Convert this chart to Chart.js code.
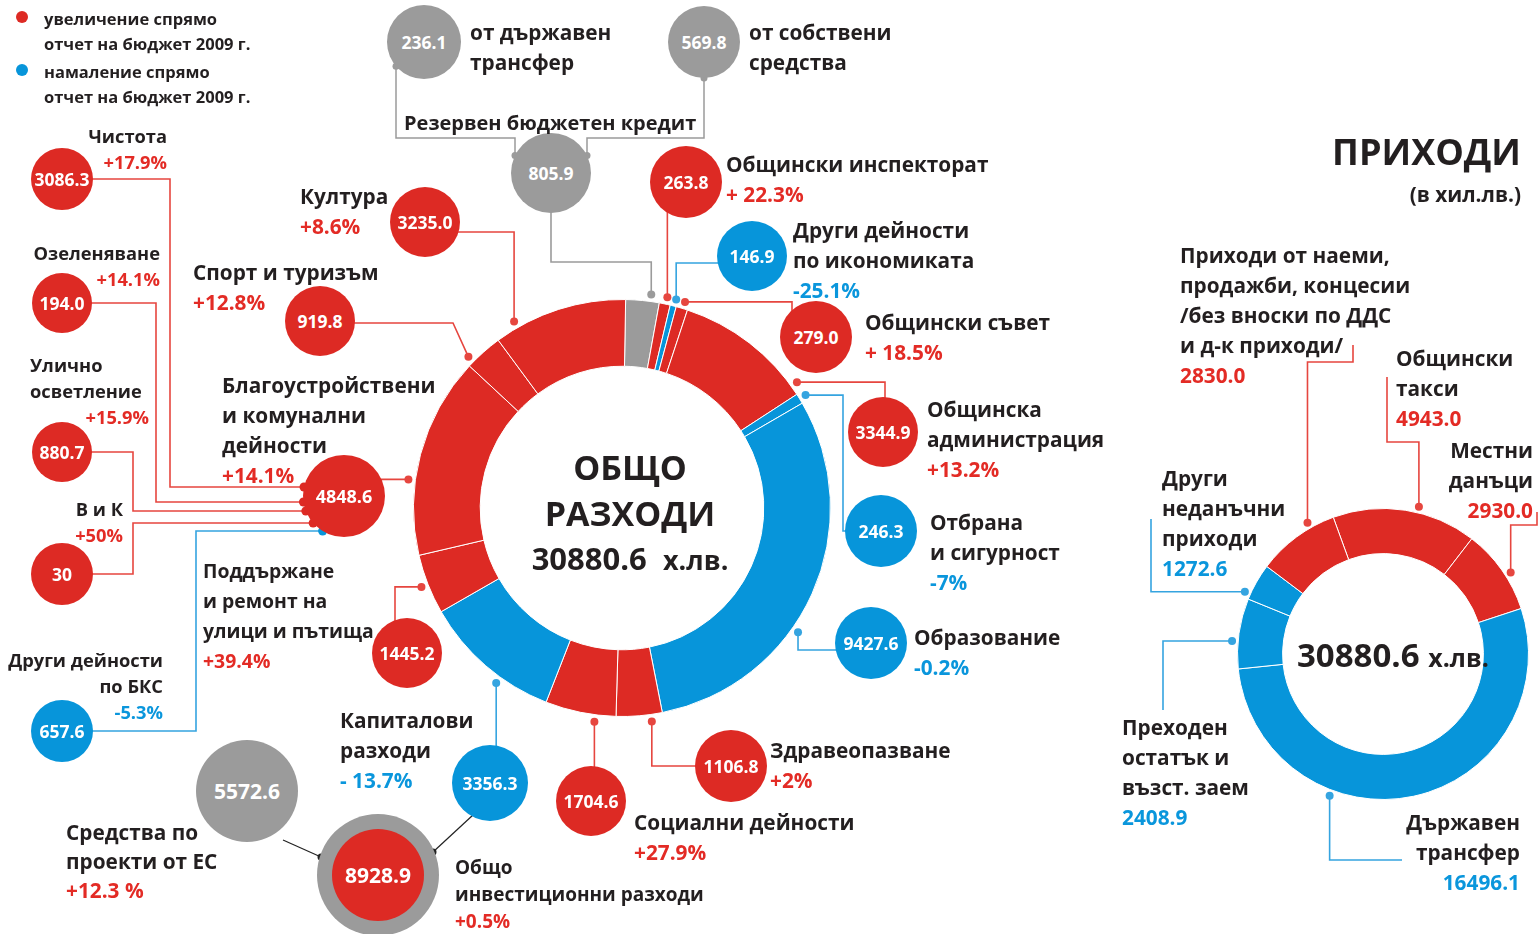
<!DOCTYPE html>
<html>
<head>
<meta charset="utf-8">
<script src="https://cdn.jsdelivr.net/npm/chart.js@4.4.1/dist/chart.umd.min.js"></script>
<style>
  body { margin: 0; background: #fff; font-family: 'Open Sans', 'Noto Sans', sans-serif; }
  #page { position: relative; width: 1539px; height: 934px; overflow: hidden; }
  canvas { position: absolute; }
  .b { position: absolute; border-radius: 50%; color: #fff; font-weight: 700; display: flex;
       align-items: center; justify-content: center; z-index: 3; }
  .t { position: absolute; font-weight: 700; color: #231f20; white-space: nowrap; z-index: 4; }
  .r { color: #e32b25; }
  .u { color: #0a96dc; }
</style>
</head>
<body>
<div id="page">
  <canvas id="mainChart" width="418" height="418" style="left:413px;top:299px"></canvas>
  <canvas id="incomeChart" width="292" height="292" style="left:1237px;top:508px"></canvas>
  <canvas id="lines" width="1539" height="934" style="left:0;top:0;z-index:2"></canvas>
</div>
<script>
// ---- data (хил. лв.) ----
const expenseLabels = ['Резервен бюджетен кредит', 'Общински инспекторат', 'Други дейности\nпо икономиката',
  'Общински съвет', 'Общинска\nадминистрация', 'Отбрана\nи сигурност', 'Образование', 'Здравеопазване',
  'Социални дейности', 'Капиталови\nразходи', 'Поддържане\nи ремонт на\nулици и пътища',
  'Благоустройствени\nи комунални\nдейности', 'Спорт и туризъм', 'Култура'];
const expenseValues = [805.9, 263.8, 146.9, 279.0, 3344.9, 246.3, 9427.6, 1106.8, 1704.6, 3356.3, 1445.2, 4848.6, 919.8, 3235.0];
const expenseChange = ['', '+ 22.3%', '-25.1%', '+ 18.5%', '+13.2%', '-7%', '-0.2%', '+2%', '+27.9%', '- 13.7%', '+39.4%', '+14.1%', '+12.8%', '+8.6%'];
const expenseTrend = ['none', 'up', 'down', 'up', 'up', 'down', 'down', 'up', 'up', 'down', 'up', 'up', 'up', 'up'];
const expenseTotal = 30880.6;

const reserveLabels = ['от държавен\nтрансфер', 'от собствени\nсредства'];
const reserveValues = [236.1, 569.8];

const communalLabels = ['Чистота', 'Озеленяване', 'Улично\nосветление', 'В и К', 'Други дейности\nпо БКС'];
const communalValues = [3086.3, 194.0, 880.7, 30, 657.6];
const communalChange = ['+17.9%', '+14.1%', '+15.9%', '+50%', '-5.3%'];
const communalTrend = ['up', 'up', 'up', 'up', 'down'];

const investLabels = ['Средства по\nпроекти от ЕС', 'Общо\nинвестиционни разходи'];
const investValues = [5572.6, 8928.9];
const investChange = ['+12.3 %', '+0.5%'];

const incomeLabels = ['Общински\nтакси', 'Местни\nданъци', 'Държавен\nтрансфер', 'Преходен\nостатък и\nвъзст. заем',
  'Други\nнеданъчни\nприходи', 'Приходи от наеми,\nпродажби, концесии\n/без вноски по ДДС\nи д-к приходи/'];
const incomeValues = [4943.0, 2930.0, 16496.1, 2408.9, 1272.6, 2830.0];
const incomeTrend = ['up', 'up', 'down', 'down', 'down', 'up'];
const incomeTotal = 30880.6;

// ---- styles ----
const RED = '#dd2a24', BLUE = '#0795da', GREY = '#9b9b9b';
const LINE_RED = '#e6463f', LINE_BLUE = '#35a4e0';
const colorOf = t => t === 'up' ? RED : t === 'down' ? BLUE : GREY;
const lineOf = t => t === 'up' ? LINE_RED : t === 'down' ? LINE_BLUE : GREY;
const clsOf = t => t === 'up' ? 'r' : 'u';
const fmt = v => (Number.isInteger(v) && v < 100) ? String(v) : v.toFixed(1);
const LBL = 20.8;

const page = document.getElementById('page');

function bubble(x, y, r, bg, txt, size) {
  const d = document.createElement('div');
  d.className = 'b';
  d.style.cssText = `left:${x - r}px;top:${y - r}px;width:${2 * r}px;height:${2 * r}px;background:${bg};font-size:${size || 17.5}px`;
  d.textContent = txt;
  page.appendChild(d);
}
// lines: [[text, cls]], y = centre of first line
function label(x, y, lines, o) {
  o = Object.assign({ size: LBL, lh: 30, align: 'left' }, o || {});
  const d = document.createElement('div');
  d.className = 't';
  d.style.fontSize = o.size + 'px';
  d.style.lineHeight = o.lh + 'px';
  d.style.top = (y - o.lh / 2) + 'px';
  d.style.textAlign = o.align;
  if (o.align === 'right') d.style.right = (1539 - x) + 'px';
  else if (o.align === 'center') { d.style.left = (x - 200) + 'px'; d.style.width = '400px'; }
  else d.style.left = x + 'px';
  lines.forEach(([s, c]) => {
    const l = document.createElement('div');
    if (c) l.className = c;
    l.textContent = s;
    d.appendChild(l);
  });
  page.appendChild(d);
  return d;
}
const nameLines = s => s.split('\n').map(l => [l, '']);

// ---- charts ----
const chartOpts = (rot, cut) => ({
  responsive: false, animation: false, rotation: rot, cutout: cut,
  layout: { padding: 0 },
  plugins: { legend: { display: false }, tooltip: { enabled: false } }
});
const mainChart = new Chart(document.getElementById('mainChart'), {
  type: 'doughnut',
  data: { labels: expenseLabels, datasets: [{ data: expenseValues, backgroundColor: expenseTrend.map(colorOf), borderColor: '#fff', borderWidth: 1 }] },
  options: chartOpts(1, '68%')
});
const incomeChart = new Chart(document.getElementById('incomeChart'), {
  type: 'doughnut',
  data: { labels: incomeLabels, datasets: [{ data: incomeValues, backgroundColor: incomeTrend.map(colorOf), borderColor: '#fff', borderWidth: 1 }] },
  options: chartOpts(-20, '69%')
});

// ---- connectors ----
const ctx = document.getElementById('lines').getContext('2d');
function arcPoint(chart, i, frac, extra) {
  const p = chart.getDatasetMeta(0).data[i].getProps(['x', 'y', 'startAngle', 'endAngle', 'outerRadius'], true);
  const a = p.startAngle + frac * (p.endAngle - p.startAngle);
  const r = p.outerRadius + extra;
  return [chart.canvas.offsetLeft + p.x + r * Math.cos(a), chart.canvas.offsetTop + p.y + r * Math.sin(a)];
}
function dot(x, y, col, r) {
  ctx.fillStyle = col;
  ctx.beginPath(); ctx.arc(x, y, r || 4, 0, Math.PI * 2); ctx.fill();
}
function path(start, steps, col, w) {
  let [x, y] = start;
  ctx.strokeStyle = col; ctx.lineWidth = w || 1.6;
  ctx.beginPath(); ctx.moveTo(x, y);
  steps.forEach(s => {
    if (s[0] === 'v') y = s[1]; else if (s[0] === 'h') x = s[1]; else { x = s[1]; y = s[2]; }
    ctx.lineTo(x, y);
  });
  ctx.stroke();
}

// main expenses: bubble, label, anchor fraction, route
const expenseLayout = [
  { b: [551, 173, 40], l: null, f: 0.73, p: [['v', 262], ['h', 551], ['v', 173]] },
  { b: [686, 182, 36], l: [726, 164], f: 0.6, p: [['v', 182]] },
  { b: [752, 256, 35], l: [793, 230], f: 0.7, p: [['v', 263], ['h', 752]] },
  { b: [816, 337, 36], l: [865, 322], f: 0.6, p: [['h', 792], ['v', 337]] },
  { b: [883, 432, 35], l: [927, 409], f: 0.93, p: [['h', 885], ['v', 432]] },
  { b: [881, 531, 36], l: [930, 522], f: 0.5, p: [['h', 843], ['v', 531], ['h', 881]] },
  { b: [871, 643, 36], l: [914, 637], f: 0.6, p: [['v', 650], ['h', 871]] },
  { b: [731, 766, 36], l: [770, 750], f: 0.25, p: [['v', 766], ['h', 731]] },
  { b: [591, 801, 35], l: [634, 822], f: 0.29, p: [['v', 801]] },
  { b: [490, 783, 38], l: [340, 720], f: 0.37, p: [['v', 783]] },
  { b: [407, 653, 35], l: [203, 571], f: 0.5, p: [['h', 395], ['v', 653]], s: 19.4 },
  { b: [344, 496, 41], l: [222, 385], f: 0.37, p: [['h', 344]] },
  { b: [320, 321, 35], l: [193, 272], f: 0.15, p: [['p', 453, 323], ['h', 320]] },
  { b: [425, 222, 35], l: [300, 196], f: 0.17, p: [['v', 232], ['h', 425]] }
];
expenseValues.forEach((v, i) => {
  const L = expenseLayout[i];
  const a = arcPoint(mainChart, i, L.f, 7);
  path(a, L.p, lineOf(expenseTrend[i]));
  dot(a[0], a[1], lineOf(expenseTrend[i]));
  bubble(L.b[0], L.b[1], L.b[2], colorOf(expenseTrend[i]), fmt(v), i === 11 ? 18 : 17.5);
  if (L.l) label(L.l[0], L.l[1], nameLines(expenseLabels[i]).concat([[expenseChange[i], clsOf(expenseTrend[i])]]), { size: L.s || LBL });
});
label(404, 123, [[expenseLabels[0], '']], { size: 20 });

// reserve credit split
const rb = [[424, 42, 37, 396, 515], [704, 42, 36, 704, 587]];
reserveValues.forEach((v, i) => {
  const [x, y, r, lx, jx] = rb[i];
  const top = y + Math.sqrt(r * r - (lx - x) * (lx - x));
  const by = 173 - Math.sqrt(40 * 40 - (jx - 551) * (jx - 551));
  path([lx, top], [['v', 138], ['h', jx], ['v', by]], GREY, 1.5);
  dot(lx, top, GREY, 3.5); dot(jx, by, GREY, 3.5);
  bubble(x, y, r, GREY, fmt(v), 17.5);
  label(x + r + 9, 32, nameLines(reserveLabels[i]));
});

// communal sub-items feeding 4848.6
const comLayout = [
  { b: [62, 179, 31], p: [[170, 179], [170, 487]], ey: 487, l: [167, 136, 'right'] },
  { b: [62, 303, 30], p: [[156, 303], [156, 502]], ey: 502, l: [160, 253, 'right'] },
  { b: [62, 452, 30], p: [[133, 452], [133, 511]], ey: 511, l: [30, 365, 'left'], c: [149, 417] },
  { b: [62, 574, 31], p: [[133, 574], [133, 523]], ey: 523, l: [123, 509, 'right'] },
  { b: [62, 731, 31], p: [[196, 731], [196, 531]], ey: 531, l: [163, 660, 'right'] }
];
communalValues.forEach((v, i) => {
  const L = comLayout[i];
  const ex = 344 - Math.sqrt(41 * 41 - (L.ey - 496) * (L.ey - 496));
  const col = lineOf(communalTrend[i]);
  path([L.b[0], L.b[1]], L.p.map(q => ['p', q[0], q[1]]).concat([['h', ex]]), col);
  dot(ex, L.ey, communalTrend[i] === 'up' ? RED : BLUE, 4.5);
  bubble(L.b[0], L.b[1], L.b[2], colorOf(communalTrend[i]), fmt(v), 17.5);
  const opt = { size: 18.3, lh: 26, align: L.l[2] };
  if (L.c) {
    label(L.l[0], L.l[1], nameLines(communalLabels[i]), opt);
    label(L.c[0], L.c[1], [[communalChange[i], 'r']], { size: 18.3, lh: 26, align: 'right' });
  } else {
    label(L.l[0], L.l[1], nameLines(communalLabels[i]).concat([[communalChange[i], clsOf(communalTrend[i])]]), opt);
  }
});

// investment group
path([283, 840], [['p', 321, 857]], '#222', 1.2);
path([473, 815], [['p', 433, 852]], '#222', 1.2);
bubble(378, 875, 61, GREY, '', 16);
bubble(247, 791, 51, GREY, fmt(investValues[0]), 21);
bubble(378, 875, 46, RED, fmt(investValues[1]), 21);
dot(321, 857, '#222', 3.5); dot(433, 852, '#222', 3.5);
label(66, 832, nameLines(investLabels[0]).concat([[investChange[0], 'r']]), { lh: 29 });
label(455, 867, nameLines(investLabels[1]).concat([[investChange[1], 'r']]), { size: 19, lh: 27 });

// centre texts
label(630, 467, [['ОБЩО', '']], { size: 34, lh: 40, align: 'center' });
label(630, 513, [['РАЗХОДИ', '']], { size: 34, lh: 40, align: 'center' });
const tot = label(630, 558, [['', '']], { size: 31, lh: 40, align: 'center' });
tot.innerHTML = expenseTotal.toFixed(1) + '&nbsp;&nbsp;<span style="font-size:27px">х.лв.</span>';

// income
const incLayout = [
  { f: 0.585, p: [['v', 442], ['h', 1387], ['v', 377]], l: [1396, 358, 'left'] },
  { f: 0.58, p: [['v', 525], ['h', 1537], ['v', 512]], l: [1533, 450, 'right'] },
  { f: 0.67, p: [['v', 860], ['h', 1402]], l: [1520, 822, 'right'] },
  { f: 0.385, p: [['h', 1163], ['v', 710]], l: [1122, 727, 'left'] },
  { f: 0.14, p: [['h', 1151], ['v', 519]], l: [1162, 478, 'left'] },
  { f: 0.7, p: [['v', 362], ['h', 1353], ['v', 345]], l: [1180, 255, 'left'] }
];
incomeValues.forEach((v, i) => {
  const L = incLayout[i];
  const a = arcPoint(incomeChart, i, L.f, 6);
  path(a, L.p, lineOf(incomeTrend[i]));
  dot(a[0], a[1], lineOf(incomeTrend[i]));
  label(L.l[0], L.l[1], nameLines(incomeLabels[i]).concat([[fmt(v), clsOf(incomeTrend[i])]]), { align: L.l[2] });
});
label(1521, 152, [['ПРИХОДИ', '']], { size: 36, lh: 44, align: 'right' });
label(1521, 194, [['(в хил.лв.)', '']], { size: LBL, lh: 30, align: 'right' });
const itot = label(1297, 655, [['', '']], { size: 33, lh: 40 });
itot.innerHTML = incomeTotal.toFixed(1) + ' <span style="font-size:25px">х.лв.</span>';

// legend
[['up', 17, 'увеличение спрямо'], ['down', 70, 'намаление спрямо']].forEach(([t, y, s]) => {
  const d = document.createElement('div');
  d.style.cssText = `position:absolute;left:16px;top:${y - 6}px;width:12px;height:12px;border-radius:50%;background:${colorOf(t)}`;
  page.appendChild(d);
  label(44, y + 1, [[s, ''], ['отчет на бюджет 2009 г.', '']], { size: 16.5, lh: 25 });
});
</script>
</body>
</html>
